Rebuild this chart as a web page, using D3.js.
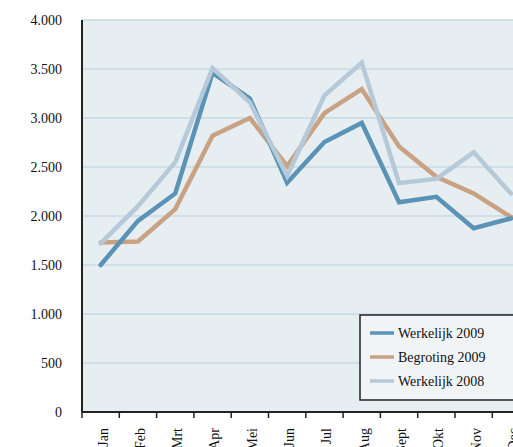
<!DOCTYPE html>
<html>
<head>
<meta charset="utf-8">
<script src="https://cdn.jsdelivr.net/npm/d3@7.9.0/dist/d3.min.js"></script>
<style>
  body { margin: 0; background: #fff; }
  svg { display: block; font-family: "Liberation Serif", "DejaVu Serif", serif; }
</style>
</head>
<body>
<svg id="chart" width="513" height="447"></svg>
<script>
// Data
const months = ["Jan", "Feb", "Mrt", "Apr", "Mei", "Jun", "Jul", "Aug", "Sept", "Okt", "Nov", "Dec"];
const werkelijk2009 = [1500, 1950, 2230, 3460, 3200, 2340, 2755, 2950, 2140, 2195, 1875, 1975];
const begroting2009 = [1730, 1740, 2070, 2820, 3000, 2510, 3050, 3295, 2710, 2400, 2230, 1990];
const werkelijk2008 = [1720, 2100, 2550, 3510, 3160, 2410, 3230, 3565, 2335, 2380, 2650, 2230];
const yTicks = [0, 500, 1000, 1500, 2000, 2500, 3000, 3500, 4000];

const series = [
  { name: "Begroting 2009", values: begroting2009, color: "#c9a283" },
  { name: "Werkelijk 2009", values: werkelijk2009, color: "#5b93b6" },
  { name: "Werkelijk 2008", values: werkelijk2008, color: "#b6c9d9" }
];
const legendOrder = ["Werkelijk 2009", "Begroting 2009", "Werkelijk 2008"];

const svg = d3.select("#chart");
const plotLeft = 82, plotTop = 20, plotBottom = 412;
const bandW = 37.3;

const x = d3.scaleBand().domain(months).range([plotLeft, plotLeft + bandW * months.length]);
const y = d3.scaleLinear().domain([0, 4000]).range([plotBottom, plotTop]);

// plot background
svg.append("rect")
  .attr("x", plotLeft).attr("y", plotTop)
  .attr("width", 513 - plotLeft).attr("height", plotBottom - plotTop)
  .attr("fill", "#e6eef2");

// gridlines
svg.append("g")
  .selectAll("line")
  .data(yTicks.filter(d => d > 0))
  .join("line")
  .attr("x1", plotLeft).attr("x2", 513)
  .attr("y1", d => y(d)).attr("y2", d => y(d))
  .attr("stroke", "#c8d8e3")
  .attr("stroke-width", 1.5);

// y labels
const fmt = d3.formatLocale({ decimal: ",", thousands: ".", grouping: [3], currency: ["", ""] }).format(",");
svg.append("g")
  .selectAll("text")
  .data(yTicks)
  .join("text")
  .attr("x", 62)
  .attr("y", d => y(d))
  .attr("dy", "0.35em")
  .attr("text-anchor", "end")
  .attr("font-size", 14)
  .attr("fill", "#111")
  .text(d => fmt(d));

// lines
const line = d3.line()
  .x((d, i) => x(months[i]) + x.bandwidth() / 2)
  .y(d => y(d));

series.forEach(s => {
  svg.append("path")
    .datum(s.values)
    .attr("d", line)
    .attr("fill", "none")
    .attr("stroke", s.color)
    .attr("stroke-width", 4.5)
    .attr("stroke-linejoin", "miter")
    .attr("stroke-linecap", "round");
});

// x axis
const xAxis = svg.append("g");
xAxis.append("line")
  .attr("x1", plotLeft).attr("x2", 513)
  .attr("y1", plotBottom).attr("y2", plotBottom)
  .attr("stroke", "#222").attr("stroke-width", 2);
xAxis.selectAll(".tick")
  .data(months)
  .join("line")
  .attr("class", "tick")
  .attr("x1", d => x(d)).attr("x2", d => x(d))
  .attr("y1", plotBottom).attr("y2", plotBottom + 6)
  .attr("stroke", "#222").attr("stroke-width", 1.5);
xAxis.selectAll("text")
  .data(months)
  .join("text")
  .attr("transform", d => `translate(${x(d) + x.bandwidth() / 2 + 2},428) rotate(-90)`)
  .attr("dy", "0.35em")
  .attr("text-anchor", "end")
  .attr("font-size", 14)
  .attr("fill", "#111")
  .text(d => d);

// y axis
svg.append("line")
  .attr("x1", plotLeft).attr("x2", plotLeft)
  .attr("y1", plotTop).attr("y2", plotBottom)
  .attr("stroke", "#222").attr("stroke-width", 2);

// legend
const lg = svg.append("g").attr("transform", "translate(360,315)");
lg.append("rect")
  .attr("width", 170).attr("height", 85)
  .attr("fill", "#f0f4f7")
  .attr("stroke", "#222").attr("stroke-width", 1.5);
legendOrder.forEach((name, i) => {
  const s = series.find(d => d.name === name);
  const yy = 18 + i * 24;
  lg.append("line")
    .attr("x1", 10).attr("x2", 34)
    .attr("y1", yy).attr("y2", yy)
    .attr("stroke", s.color).attr("stroke-width", 3.5);
  lg.append("text")
    .attr("x", 38).attr("y", yy)
    .attr("dy", "0.35em")
    .attr("font-size", 14)
    .attr("fill", "#111")
    .text(name);
});
</script>
</body>
</html>
